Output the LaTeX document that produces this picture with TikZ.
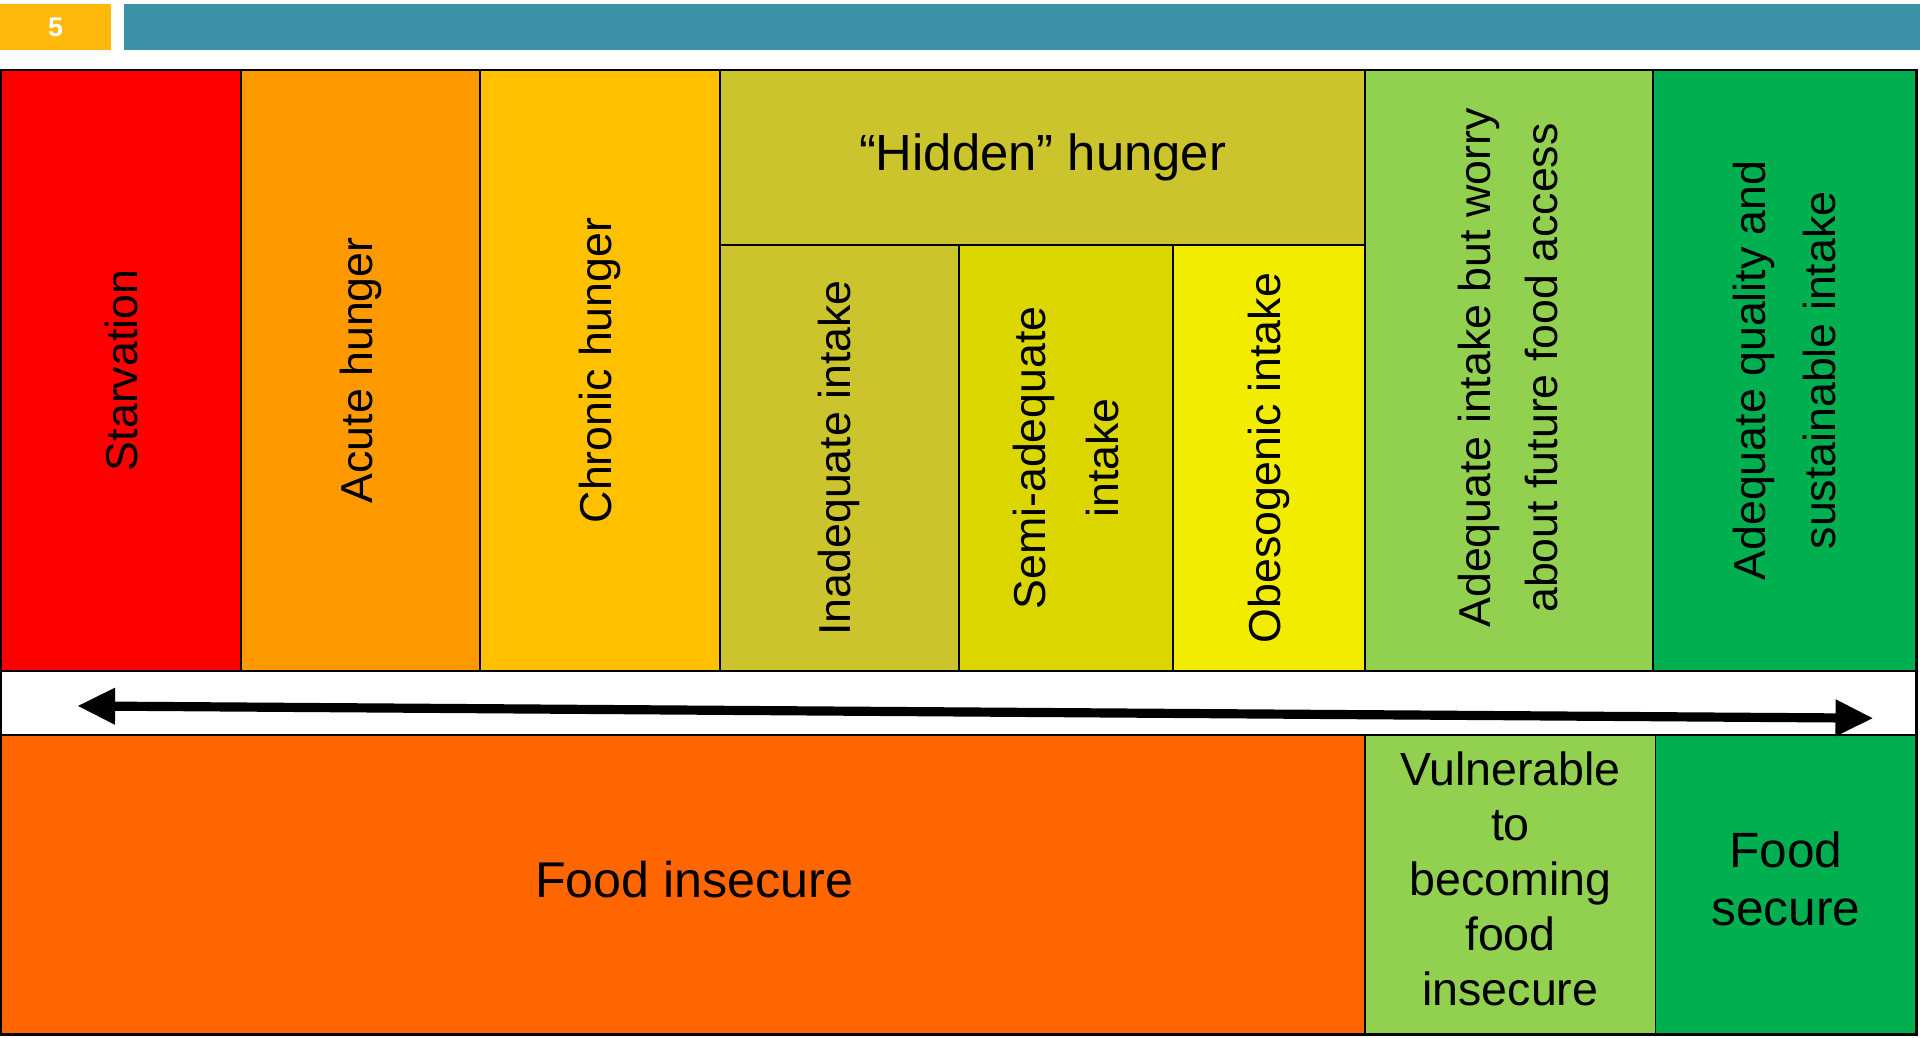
\documentclass[tikz,border=0pt]{standalone}
\usepackage{fontspec}
\setmainfont{Liberation Sans}
\usetikzlibrary{arrows.meta}
\definecolor{cStarv}{HTML}{FF0000}
\definecolor{cAcute}{HTML}{FF9900}
\definecolor{cChron}{HTML}{FFC000}
\definecolor{cHidden}{HTML}{CCC42C}
\definecolor{cSemi}{HTML}{DCD600}
\definecolor{cObes}{HTML}{F2EC00}
\definecolor{cLight}{HTML}{92D050}
\definecolor{cDark}{HTML}{00B050}
\definecolor{cInsec}{HTML}{FF6600}
\definecolor{cTag}{HTML}{FFB80C}
\definecolor{cTeal}{HTML}{3C91A7}
\tikzset{
  cellbox/.style={draw=black, line width=1.5pt, inner sep=0pt, outer sep=0pt},
  vtext/.style={rotate=90, align=center, inner sep=0pt, font=\fontsize{36.5}{57}\selectfont},
  htext/.style={align=center, inner sep=0pt},
}
\newcommand{\cellrect}[7]{% name, x1,y1,x2,y2, color
  \node[cellbox, fill=#6, minimum width={(#4-#2)*1pt}, minimum height={(#5-#3)*1pt}] (#1) at ({(#2+#4)/2},{(#3+#5)/2}) {#7};
}
\begin{document}
\begin{tikzpicture}[x=1pt,y=-1pt]
\useasboundingbox (0,0) rectangle (1568,847);
\fill[white] (0,0) rectangle (1568,847);
% header bars
\node[fill=cTag, minimum width=91pt, minimum height=38pt, inner sep=0pt] (tag) at (45.5,22) {};
\node[text=white, font=\fontsize{22}{24}\selectfont\bfseries] (tagnum) at (tag) {5};
\node[fill=cTeal, minimum width=1467pt, minimum height=38pt, inner sep=0pt] (bar) at (834.5,22) {};
% top row
\cellrect{starv}{1}{57}{197}{548}{cStarv}{}
\cellrect{acute}{197}{57}{392}{548}{cAcute}{}
\cellrect{chron}{392}{57}{588}{548}{cChron}{}
\cellrect{hidden}{588}{57}{1115}{200}{cHidden}{}
\cellrect{inad}{588}{200}{783}{548}{cHidden}{}
\cellrect{semi}{783}{200}{958}{548}{cSemi}{}
\cellrect{obes}{958}{200}{1115}{548}{cObes}{}
\cellrect{worry}{1115}{57}{1350}{548}{cLight}{}
\cellrect{qual}{1350}{57}{1565}{548}{cDark}{}
% band
\cellrect{band}{1}{548}{1565}{600}{white}{}
% bottom row
\cellrect{insec}{1}{600}{1115}{845}{cInsec}{}
\cellrect{vuln}{1115}{600}{1352}{845}{cLight}{}
\cellrect{secure}{1352}{600}{1565}{845}{cDark}{}
% outer frame
\draw[line width=2pt] (starv.north west) rectangle (secure.south east);
% texts
\node[vtext] (tStarv) at (starv) {Starvation};
\node[vtext] (tAcute) at (acute) {Acute hunger};
\node[vtext] (tChron) at (chron) {Chronic hunger};
\node[htext, font=\fontsize{41.5}{50}\selectfont] (tHidden) at (hidden) {“Hidden” hunger};
\node[vtext] (tInad) at (inad) {Inadequate intake};
\node[vtext, font=\fontsize{36.5}{59}\selectfont] (tSemi) at (semi) {Semi-adequate\\intake};
\node[vtext] (tObes) at (obes) {Obesogenic intake};
\node[vtext, font=\fontsize{36.5}{55}\selectfont] (tWorry) at ([xshift=-1pt,yshift=2pt]worry.center) {Adequate intake but worry\\about future food access};
\node[vtext] (tQual) at (qual) {Adequate quality and\\sustainable intake};
\node[htext, font=\fontsize{41}{49}\selectfont] (tInsec) at ([xshift=9pt,yshift=4.5pt]insec.center) {Food insecure};
\node[htext, font=\fontsize{38}{45}\selectfont] (tVuln) at ([yshift=5pt]vuln.center) {Vulnerable\\to\\becoming\\food\\insecure};
\node[htext, font=\fontsize{40.5}{47.5}\selectfont] (tSecure) at ([yshift=5pt]secure.center) {Food\\secure};
% arrow
\coordinate (aL) at (63,576.5);
\coordinate (aR) at (1530,586.5);
\draw[line width=7.5pt, {Triangle[length=31pt,width=28pt]}-{Triangle[length=31pt,width=28pt]}] (aL) -- (aR);
\end{tikzpicture}
\end{document}
